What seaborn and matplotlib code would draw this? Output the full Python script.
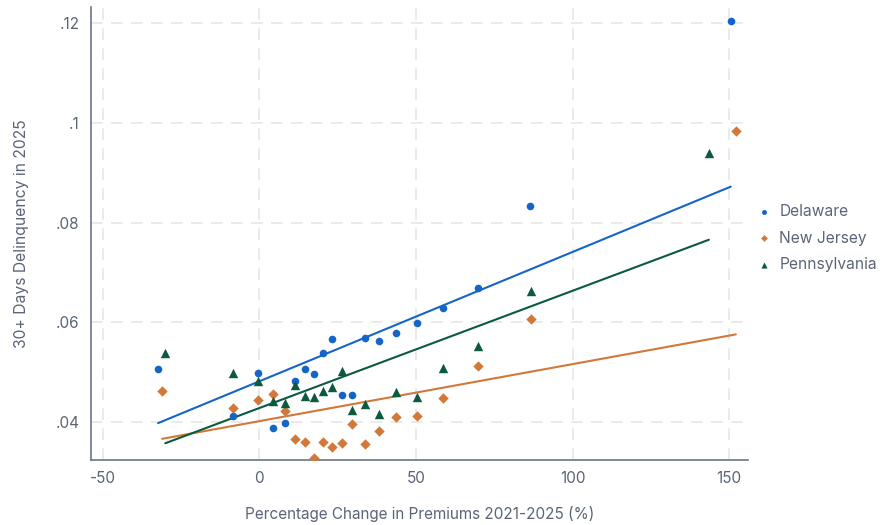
import numpy as np
import pandas as pd
import matplotlib
matplotlib.use("Agg")
import matplotlib.pyplot as plt
import seaborn as sns

# Percentage change in premiums 2021-2025 (x) and 30+ day delinquency (y)
de_x = [-32.3, -8.5, -0.4, 4.3, 8.2, 11.4, 14.6, 17.5, 20.2, 23.2,
        26.3, 29.7, 33.7, 38.3, 43.7, 50.3, 58.6, 69.9, 86.5, 150.5]
de_y = [.0506, .0412, .0498, .0389, .0399, .0482, .0507, .0497, .0539, .0566,
        .0455, .0455, .0569, .0562, .0579, .0598, .0628, .0668, .0834, .1204]

nj_x = [-31.0, -8.4, -0.4, 4.3, 8.2, 11.5, 14.6, 17.5, 20.2, 23.2,
        26.3, 29.7, 33.7, 38.3, 43.7, 50.3, 58.6, 69.9, 86.6, 152.1]
nj_y = [.0463, .0428, .0444, .0456, .0422, .0367, .0361, .0328, .0361, .0350,
        .0359, .0397, .0357, .0383, .0411, .0412, .0448, .0513, .0606, .0984]

pa_x = [-30.0, -8.4, -0.4, 4.4, 8.2, 11.5, 14.6, 17.5, 20.2, 23.2,
        26.3, 29.7, 33.7, 38.3, 43.7, 50.3, 58.6, 69.9, 86.6, 143.5]
pa_y = [.0539, .0499, .0483, .0443, .0438, .0475, .0453, .0450, .0463, .0471,
        .0502, .0425, .0437, .0417, .0461, .0451, .0509, .0552, .0663, .0939]

# fitted lines as shown in the chart (intercept, slope)
fit_intercept = {"Delaware": .04817, "New Jersey": .04019, "Pennsylvania": .04281}
fit_slope = {"Delaware": .0002593, "New Jersey": .0001143, "Pennsylvania": .0002351}

states = ["Delaware", "New Jersey", "Pennsylvania"]
colors = {"Delaware": "#1565c8", "New Jersey": "#d2783a", "Pennsylvania": "#0c5a3e"}
markers = {"Delaware": "o", "New Jersey": "D", "Pennsylvania": "^"}
sizes = {"Delaware": 30, "New Jersey": 28, "Pennsylvania": 46}

df = pd.concat([
    pd.DataFrame({"x": de_x, "y": de_y, "state": "Delaware"}),
    pd.DataFrame({"x": nj_x, "y": nj_y, "state": "New Jersey"}),
    pd.DataFrame({"x": pa_x, "y": pa_y, "state": "Pennsylvania"}),
])

sns.set_theme(style="white")
plt.rcParams["font.family"] = ["Inter", "DejaVu Sans"]
text_col = "#5b6478"
spine_col = "#6b7489"

fig = plt.figure(figsize=(8.92, 5.25), dpi=100)
ax = fig.add_axes([0.1017, 0.1238, 0.7369, 0.8629])

for s in states:
    d = df[df["state"] == s]
    xs = np.array([d["x"].min(), d["x"].max()])
    fit = pd.DataFrame({"x": xs, "y": fit_intercept[s] + fit_slope[s] * xs})
    sns.lineplot(data=fit, x="x", y="y", ax=ax, color=colors[s], lw=1.5,
                 zorder=2, legend=False)
for s in states:
    d = df[df["state"] == s]
    ax.scatter(d["x"], d["y"], s=sizes[s], marker=markers[s], color=colors[s],
               linewidths=0, zorder=3, label=s)

ax.set_xlim(-53.8, 156)
ax.set_ylim(0.0324, 0.1232)
ax.set_xticks([-50, 0, 50, 100, 150])
ax.set_xticklabels(["-50", "0", "50", "100", "150"])
ax.set_yticks([0.04, 0.06, 0.08, 0.10, 0.12])
ax.set_yticklabels([".04", ".06", ".08", ".1", ".12"])

ax.grid(True, color="#e6e6e6", linestyle=(0, (7, 5)), linewidth=1.2)
ax.set_axisbelow(True)
for side in ["top", "right"]:
    ax.spines[side].set_visible(False)
for side in ["left", "bottom"]:
    ax.spines[side].set_color(spine_col)
    ax.spines[side].set_linewidth(1.2)

ax.tick_params(axis="both", direction="out", length=5, width=1.2, color=spine_col,
               labelcolor=text_col, labelsize=11, pad=3)
ax.set_xlabel("Percentage Change in Premiums 2021-2025 (%)", color=text_col,
              fontsize=11, labelpad=14)
ax.set_ylabel("30+ Days Delinquency in 2025", color=text_col, fontsize=11.3,
              labelpad=19)

leg = ax.legend(loc="center left", bbox_to_anchor=(1.0, 0.49), frameon=False,
                fontsize=11.2, markerscale=0.65, handletextpad=0.6,
                labelspacing=0.75, handlelength=0.8, borderaxespad=0.2)
for t in leg.get_texts():
    t.set_color(text_col)

fig.savefig("out.png", dpi=100)
